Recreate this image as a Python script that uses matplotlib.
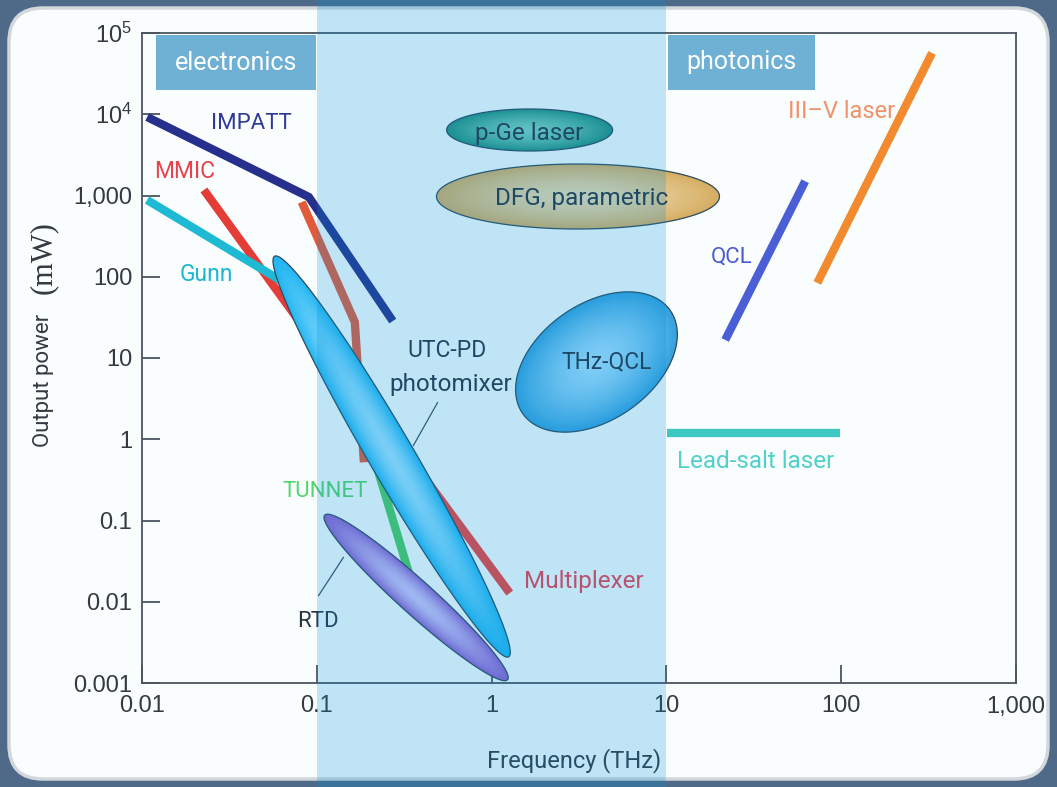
import numpy as np
import matplotlib
matplotlib.use("Agg")
import matplotlib.pyplot as plt
from matplotlib.patches import FancyBboxPatch, Rectangle
from matplotlib.transforms import IdentityTransform
from matplotlib.ticker import NullLocator
import matplotlib.colors as mcolors

plt.rcParams['font.family'] = ['Liberation Sans', 'DejaVu Sans']
plt.rcParams['mathtext.fontset'] = 'custom'
plt.rcParams['mathtext.rm'] = 'Liberation Sans'
NARROW = ['Roboto', 'Liberation Sans', 'DejaVu Sans']

# --- data: frequency (THz) / output power (mW) ---
impatt_f = [0.0107, 0.090, 0.272]
impatt_p = [9250, 960, 28.5]
mmic_f = [0.0226, 0.080]
mmic_p = [1170, 27.7]
gunn_f = [0.0107, 0.0615]
gunn_p = [880, 91]
mux_f = [0.082, 0.165, 0.186]
mux_p = [830, 27.7, 0.52]
mux2_f = [0.298, 1.27]
mux2_p = [0.87, 0.0128]
tunnet_f = [0.206, 0.340]
tunnet_p = [0.74, 0.021]
qcl_f = [21.7, 62.2]
qcl_p = [16.7, 1500]
iiiv_f = [73, 331]
iiiv_p = [84, 56800]
leadsalt_f = [10.1, 99]
leadsalt_p = [1.19, 1.19]

# regions: centre freq, centre power
utc_c = (0.268, 0.613)
rtd_c = (0.370, 0.0113)
thzqcl_c = (3.98, 8.93)
pge_c = (1.65, 6400)
dfg_c = (3.12, 972)

xticks = [0.01, 0.1, 1, 10, 100, 1000]
xlabels = ['0.01', '0.1', '1', '10', '100', '1,000']
yticks = [1e-3, 1e-2, 1e-1, 1, 10, 100, 1000, 1e4, 1e5]
ylabels = ['0.001', '0.01', '0.1', '1', '10', '100', '1,000',
           r'$\mathregular{10^4}$', r'$\mathregular{10^5}$']

W, H = 1057, 787
fig = plt.figure(figsize=(W / 100, H / 100), dpi=100)
fig.patch.set_facecolor('#4E6A88')

# white rounded panel
panel = FancyBboxPatch((9, 8), 1039, 771, boxstyle="round,pad=0,rounding_size=34",
                       transform=IdentityTransform(), facecolor='#F9FDFE',
                       edgecolor='#D3D7DB', lw=2.5, zorder=-5)
fig.add_artist(panel)

ax = fig.add_axes([142 / W, 104 / H, 874 / W, 650 / H])
ax.set_facecolor('none')
ax.set_xscale('log')
ax.set_yscale('log')
ax.set_xlim(0.01, 1000)
ax.set_ylim(1e-3, 1e5)


def axp(px, py):
    return ((px - 142) / 874, (683 - py) / 650)


def ellipse_pts(c, w, h, ang, s=1.0, n=160):
    cx, cy = ax.transData.transform(c)
    t = np.linspace(0, 2 * np.pi, n)
    a = np.deg2rad(ang)
    x = w * s / 2 * np.cos(t)
    y = h * s / 2 * np.sin(t)
    X = cx + x * np.cos(a) - y * np.sin(a)
    Y = cy + x * np.sin(a) + y * np.cos(a)
    return ax.transData.inverted().transform(np.column_stack([X, Y]))


def blob(c, w, h, ang, edge, centre, z):
    e = np.array(mcolors.to_rgb(edge))
    m = np.array(mcolors.to_rgb(centre))
    for s in np.linspace(1, 0.04, 30):
        col = m + (e - m) * s ** 1.6
        pts = ellipse_pts(c, w, h, ang, s)
        ax.fill(pts[:, 0], pts[:, 1], color=col, lw=0, zorder=z)
    pts = ellipse_pts(c, w, h, ang)
    ax.fill(pts[:, 0], pts[:, 1], facecolor='none', edgecolor='#2E4A5C', lw=0.9, zorder=z)


lw = 6
ax.plot(impatt_f, impatt_p, color='#26308C', lw=lw, zorder=3, solid_capstyle='butt')
ax.plot(mmic_f, mmic_p, color='#E43C37', lw=lw, zorder=3, solid_capstyle='butt')
ax.plot(gunn_f, gunn_p, color='#1EB9D2', lw=lw, zorder=3, solid_capstyle='butt')
ax.plot(mux_f, mux_p, color='#E25A3C', lw=lw, zorder=3, solid_capstyle='butt')
ax.plot(mux2_f, mux2_p, color='#F0413E', lw=lw, zorder=3, solid_capstyle='butt')
ax.plot(tunnet_f, tunnet_p, color='#4ECB63', lw=lw, zorder=3, solid_capstyle='butt')
ax.plot(qcl_f, qcl_p, color='#4A5FD6', lw=lw, zorder=3, solid_capstyle='butt')
ax.plot(iiiv_f, iiiv_p, color='#F28B30', lw=lw, zorder=3, solid_capstyle='butt')
ax.plot(leadsalt_f, leadsalt_p, color='#3CC8C0', lw=lw, zorder=3, solid_capstyle='butt')

blob(rtd_c, 246, 34, -42, '#9060D0', '#D0C4FA', 4)
blob(utc_c, 464, 45, -59.7, '#22B6F2', '#9FE2FF', 5)
blob(thzqcl_c, 180, 116, 35, '#36A2DE', '#A6E0FF', 4)
blob(pge_c, 166, 42, 0, '#25907E', '#7CD0BC', 4)
blob(dfg_c, 283, 65, 0, '#D6AE64', '#EEDDB2', 4)

# labels
def lab(txt, px, py, col, size, z=6, **kw):
    ax.text(*axp(px, py), txt, transform=ax.transAxes, color=col, fontsize=size,
            ha='center', va='baseline', family=NARROW, zorder=z, **kw)


dark = '#283442'
lab('IMPATT', 251, 129, '#2E3A94', 16)
lab('MMIC', 185, 178, '#E8414B', 16.5)
lab('Gunn', 206, 281, '#1CB8CF', 16.5)
lab('UTC-PD', 447, 357, dark, 16.5)
lab('photomixer', 451, 391, dark, 17.5)
lab('p-Ge laser', 529, 140, dark, 17.5)
lab('DFG, parametric', 582, 205, dark, 17.5)
lab('THz-QCL', 607, 368, dark, 16.5)
lab('QCL', 732, 263, '#4B5BD0', 16)
lab('III\u2013V laser', 842, 118, '#F0926A', 17)
lab('Lead-salt laser', 756, 468, '#52D0CB', 17.5)
lab('TUNNET', 325, 497, '#52D66A', 16)
lab('RTD', 318, 627, dark, 16)
lab('Multiplexer', 584, 588, '#F0404E', 17.5)

# leader lines
ax.annotate('', xy=axp(412, 448), xytext=axp(439, 400), xycoords='axes fraction',
            arrowprops=dict(arrowstyle='-', color='#3A5060', lw=0.9), zorder=6)
ax.annotate('', xy=axp(345, 555), xytext=axp(317, 598), xycoords='axes fraction',
            arrowprops=dict(arrowstyle='-', color='#3A5060', lw=0.9), zorder=6)

# axes styling
for sp in ax.spines.values():
    sp.set_color('#4A5560')
    sp.set_linewidth(1.3)
ax.set_xticks(xticks)
ax.set_xticklabels(xlabels)
ax.set_yticks(yticks)
ax.set_yticklabels(ylabels)
ax.xaxis.set_minor_locator(NullLocator())
ax.yaxis.set_minor_locator(NullLocator())
ax.tick_params(direction='in', length=13, width=1.3, color='#4A5560',
               labelsize=17, labelcolor='#343A40')
ax.tick_params(axis='x', pad=9)
ax.tick_params(axis='y', pad=7)

ax.text(*axp(574, 767), 'Frequency (THz)', transform=ax.transAxes, ha='center',
        va='baseline', fontsize=17, color='#333A42', family=NARROW, clip_on=False)
ax.text(*axp(43, 380), 'Output power', transform=ax.transAxes, ha='center',
        va='center', rotation=90, fontsize=16, color='#333A42', family=NARROW, clip_on=False)
ax.text(*axp(43, 258), '(mW)', transform=ax.transAxes, ha='center',
        va='center', rotation=90, fontsize=22, color='#333A42',
        family=['Liberation Serif', 'DejaVu Serif'], clip_on=False)

# light blue THz band laid over everything
ax.axvspan(0.1, 10, ymin=-0.2, ymax=1.1, color='#0091DC', alpha=0.23, lw=0,
           zorder=10, clip_on=False)

# electronics / photonics tags
for x0, x1, txt in [(156, 316, 'electronics'), (668, 815, 'photonics')]:
    (ax0, ay0) = axp(x0, 90)
    (ax1, ay1) = axp(x1, 35)
    ax.add_patch(Rectangle((ax0, ay0), ax1 - ax0, ay1 - ay0, transform=ax.transAxes,
                           facecolor='#6FB1D5', lw=0, zorder=11, clip_on=False))
    ax.text((ax0 + ax1) / 2, (ay0 + ay1) / 2, txt, transform=ax.transAxes, ha='center',
            va='center', fontsize=18, color='white', family=NARROW, zorder=12)

fig.savefig('out.png', dpi=100, facecolor=fig.get_facecolor())
